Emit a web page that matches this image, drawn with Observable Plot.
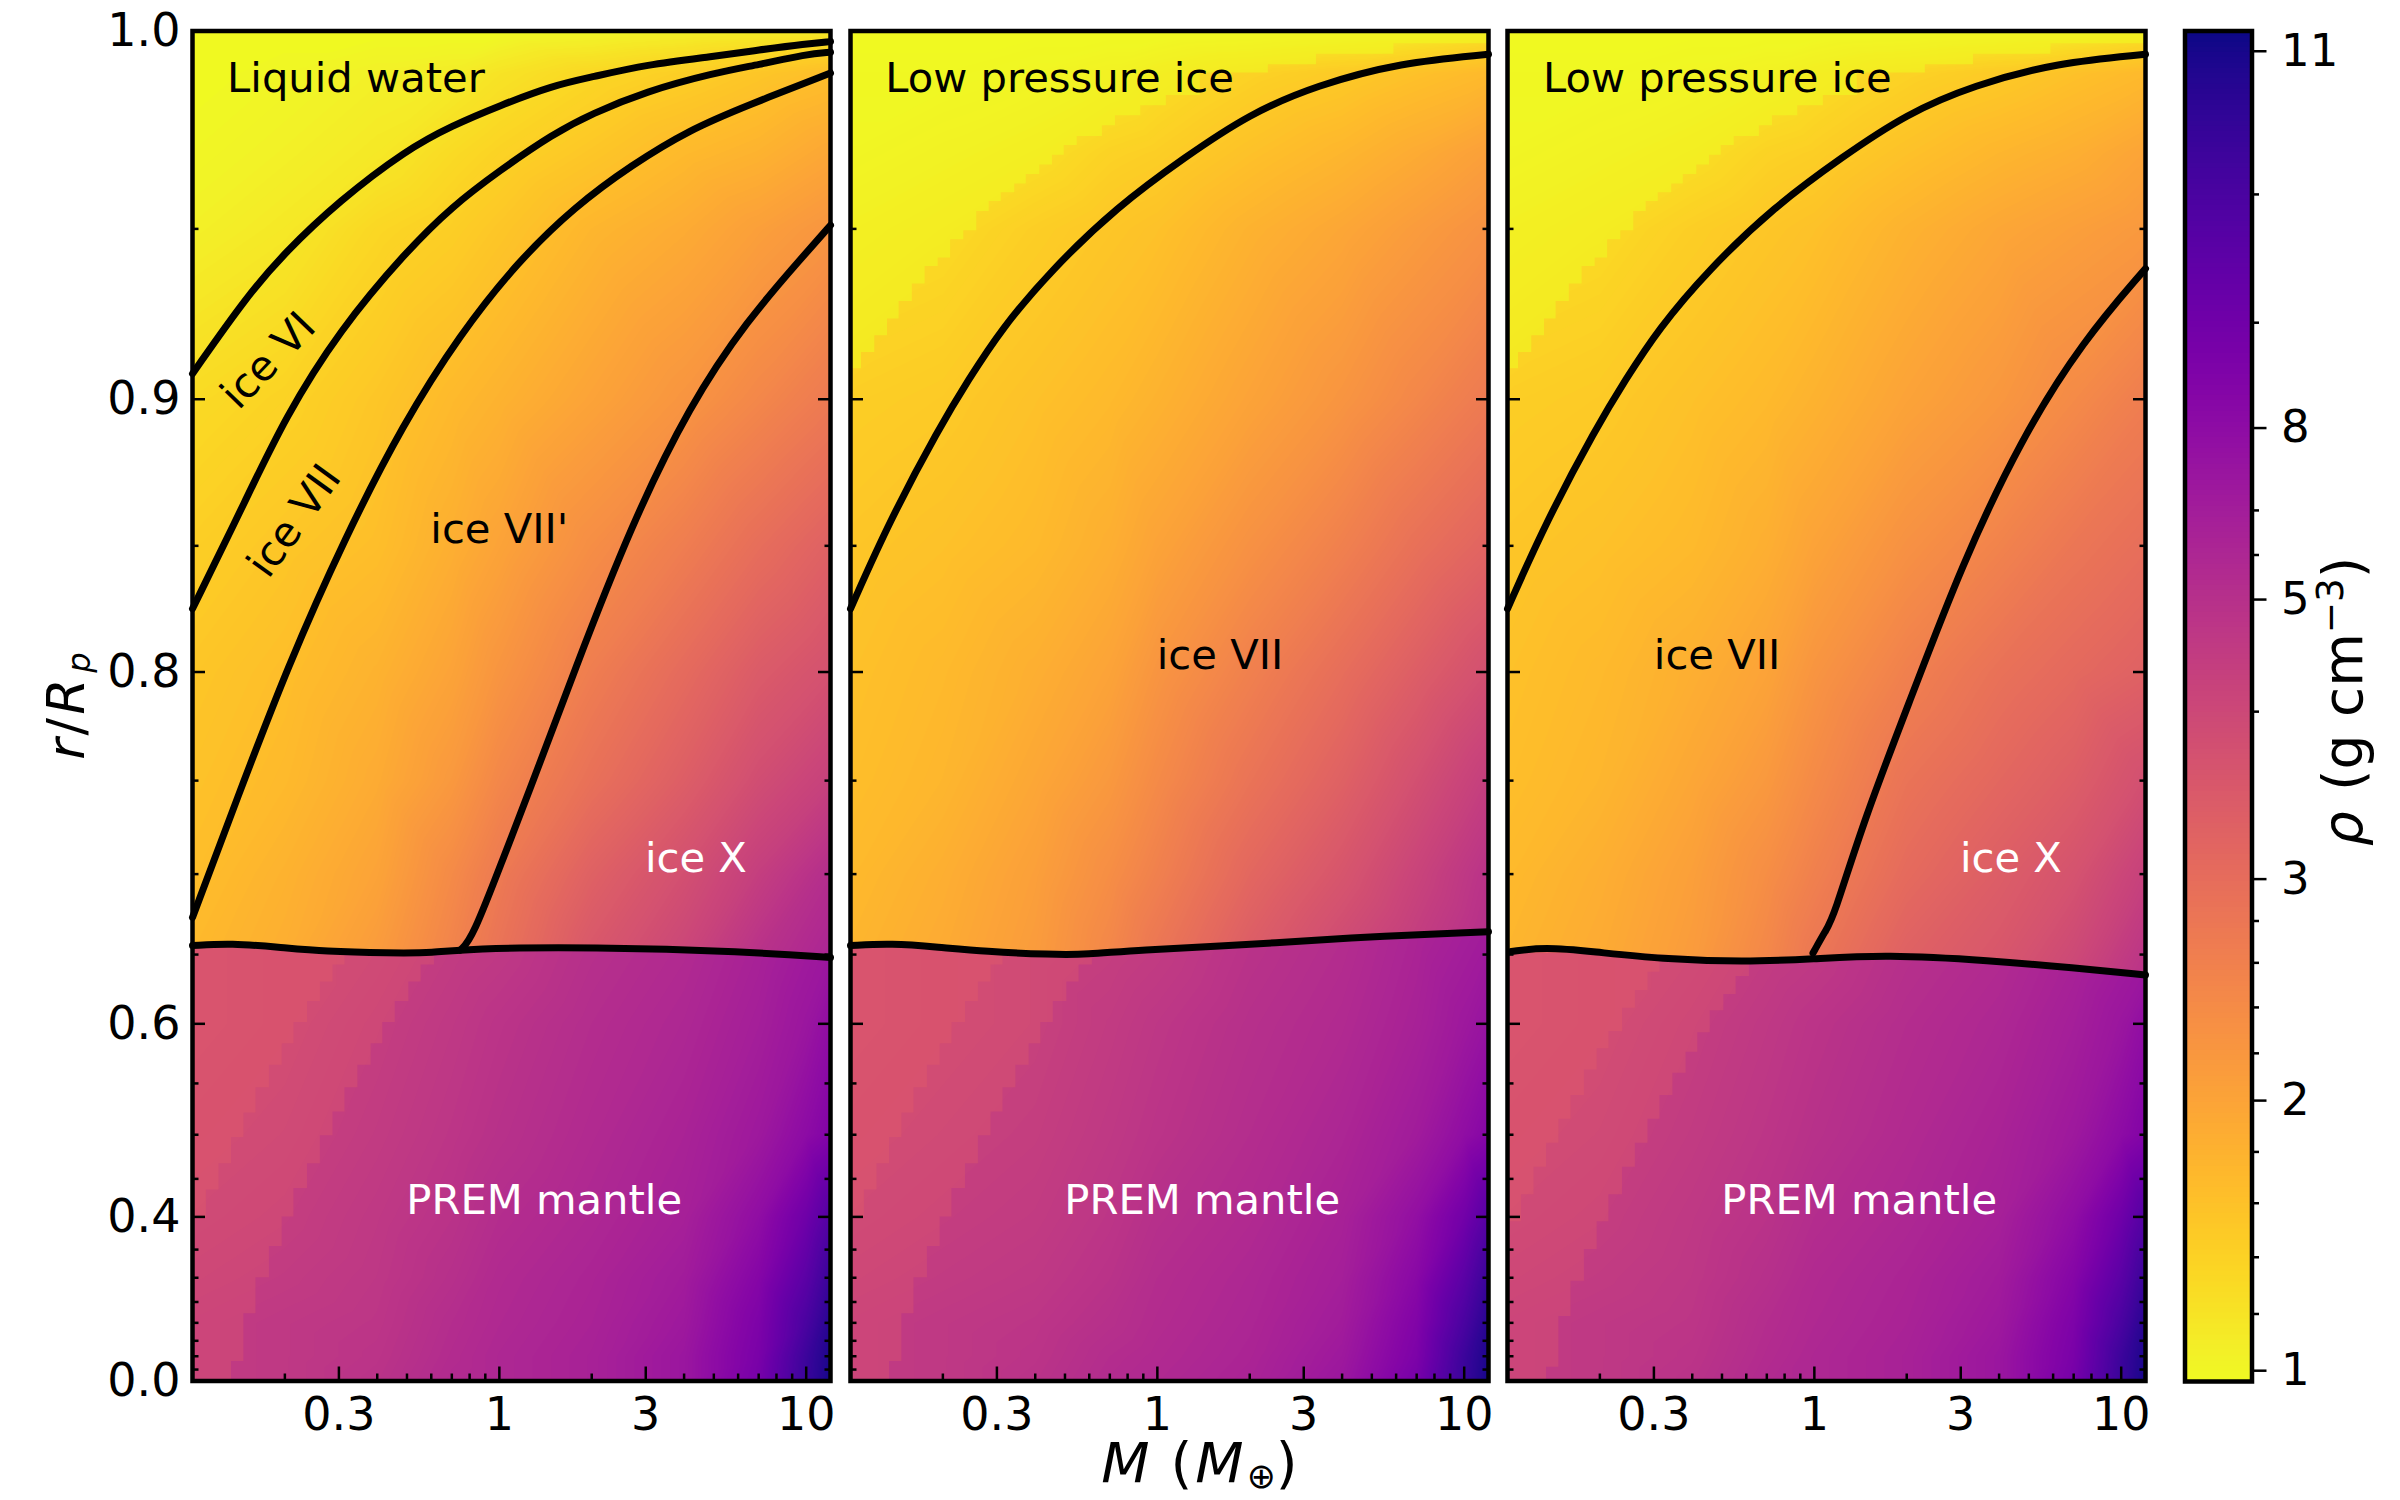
<!DOCTYPE html>
<html>
<head>
<meta charset="utf-8">
<script src="https://cdn.jsdelivr.net/npm/d3@7"></script>
<script src="https://cdn.jsdelivr.net/npm/@observablehq/plot@0.6"></script>
<style>
  body { margin: 0; background: white; font-family: "DejaVu Sans", sans-serif; }
  #fig { position: relative; width: 2400px; height: 1500px; overflow: hidden; }
  #fig svg { position: absolute; top: 0; }
  .lab { position: absolute; white-space: nowrap; color: black; transform: translate(-50%, -50%); }
  .lab.rot { transform: translate(-50%, -50%) rotate(-90deg); }
  .lab sub { font-size: 0.62em; line-height: 0; vertical-align: -0.18em; }
  .lab sup { font-size: 0.68em; line-height: 0; }
  .lab i { margin: 0 3px; }
</style>
</head>
<body>
<div id="fig"></div>
<script>
// axis ticks
const massMajor = [0.3, 1, 3, 10];
const massMinor = [0.2, 0.4, 0.5, 0.6, 0.7, 0.8, 0.9, 2, 4, 5, 6, 7, 8, 9];
const radiusMajor = [1, 0.9, 0.8, 0.6, 0.4, 0];
const radiusMinor = [0.95, 0.85, 0.75, 0.7, 0.65, 0.55, 0.5, 0.45, 0.35, 0.3, 0.25, 0.2, 0.15, 0.1, 0.05];

// colorbar: density ticks and where they sit along the bar (0 bottom, 1 top)
const rhoTicks = [1, 1.2, 1.4, 1.6, 1.8, 2, 2.2, 2.4, 2.6, 2.8, 3, 4, 5, 6, 7, 8, 9, 10, 11];
const rhoTickPos = [0.008, 0.05, 0.092, 0.132, 0.17, 0.208, 0.243, 0.277, 0.31, 0.341, 0.372, 0.496, 0.579, 0.612, 0.645, 0.706, 0.784, 0.879, 0.985];
const rhoMajor = [1, 2, 3, 5, 8, 11];

// density, on a coarse mass / radius grid
const gridMass = [0.1, 0.2, 0.4, 0.7, 1, 2, 4, 7, 10, 12];
const waterMass = [0.1, 0.2, 0.4, 0.7, 1, 2, 4, 7, 12];
const waterR = [1, 0.99, 0.97, 0.95, 0.9, 0.85, 0.8, 0.75, 0.7];
const mantleR = [0.6, 0.5, 0.4, 0.3, 0.2, 0.1, 0];

const waterRho1 = [
  [0.96, 0.96, 0.96, 0.96, 0.96, 1.0, 1.06, 1.1, 1.15],
  [0.96, 1.0, 1.06, 1.1, 1.2, 1.34, 1.44, 1.54, 1.64],
  [1.0, 1.06, 1.15, 1.3, 1.39, 1.54, 1.7, 1.8, 1.96],
  [1.06, 1.15, 1.34, 1.44, 1.54, 1.75, 1.9, 2.07, 2.24],
  [1.3, 1.39, 1.54, 1.7, 1.8, 2.01, 2.24, 2.48, 2.73],
  [1.44, 1.54, 1.64, 1.85, 2.01, 2.36, 2.66, 2.98, 3.31],
  [1.54, 1.64, 1.8, 2.01, 2.24, 2.66, 3.06, 3.47, 3.75],
  [1.59, 1.7, 1.9, 2.18, 2.48, 2.92, 3.39, 3.85, 4.3],
  [1.64, 1.8, 2.01, 2.42, 2.73, 3.31, 3.79, 4.4, 5.3],
  [1.7, 1.85, 2.13, 2.54, 2.86, 3.55, 4.05, 4.9, 6.2]
];
const waterRho2 = [
  [0.96, 0.96, 0.96, 0.96, 0.96, 1.0, 1.06, 1.1, 1.2],
  [1.0, 1.0, 1.06, 1.15, 1.25, 1.39, 1.49, 1.6, 1.7],
  [1.06, 1.15, 1.25, 1.39, 1.44, 1.6, 1.75, 1.9, 2.07],
  [1.2, 1.3, 1.44, 1.54, 1.6, 1.8, 1.96, 2.13, 2.3],
  [1.44, 1.49, 1.6, 1.7, 1.8, 2.01, 2.24, 2.48, 2.73],
  [1.54, 1.6, 1.7, 1.85, 2.01, 2.3, 2.6, 2.92, 3.23],
  [1.6, 1.7, 1.85, 2.01, 2.24, 2.6, 2.98, 3.39, 3.79],
  [1.64, 1.75, 1.96, 2.18, 2.42, 2.86, 3.31, 3.79, 4.4],
  [1.7, 1.85, 2.07, 2.36, 2.6, 3.15, 3.63, 4.17, 4.9],
  [1.75, 1.9, 2.13, 2.48, 2.79, 3.39, 3.87, 4.41, 5.1]
];
const waterRho3 = [
  [0.96, 0.96, 0.96, 0.96, 0.96, 1.0, 1.06, 1.1, 1.2],
  [1.0, 1.0, 1.06, 1.15, 1.25, 1.39, 1.49, 1.6, 1.7],
  [1.06, 1.15, 1.25, 1.39, 1.44, 1.6, 1.75, 1.85, 2.0],
  [1.2, 1.3, 1.44, 1.54, 1.6, 1.8, 1.96, 2.07, 2.18],
  [1.44, 1.49, 1.6, 1.7, 1.8, 2.01, 2.2, 2.42, 2.66],
  [1.54, 1.6, 1.7, 1.85, 2.01, 2.3, 2.55, 2.8, 2.98],
  [1.6, 1.7, 1.85, 2.01, 2.24, 2.6, 2.9, 3.1, 3.31],
  [1.64, 1.75, 1.96, 2.18, 2.42, 2.86, 3.15, 3.4, 3.8],
  [1.7, 1.85, 2.07, 2.36, 2.6, 3.06, 3.4, 3.7, 4.3],
  [1.75, 1.9, 2.13, 2.48, 2.79, 3.3, 3.6, 4.0, 4.9]
];
const mantleRho1 = [
  [4.05, 4.17, 4.29, 4.53, 4.65, 5.03, 5.64, 6.54, 7.08, 7.41],
  [4.05, 4.17, 4.41, 4.65, 4.83, 5.33, 5.94, 6.85, 7.41, 7.9],
  [4.17, 4.29, 4.53, 4.77, 4.96, 5.64, 6.39, 7.25, 8.04, 8.44],
  [4.29, 4.41, 4.65, 4.89, 5.33, 5.94, 6.7, 7.9, 9.05, 9.78],
  [4.41, 4.53, 4.71, 5.03, 5.64, 6.24, 7.08, 8.31, 9.57, 10.38],
  [4.53, 4.65, 4.77, 5.33, 5.79, 6.39, 7.25, 8.57, 10.0, 10.76],
  [4.53, 4.65, 4.83, 5.48, 5.94, 6.54, 7.41, 8.69, 10.3, 10.95],
  [4.53, 4.65, 4.89, 5.64, 5.94, 6.54, 7.41, 8.82, 10.38, 11.05]
];
const mantleRho2 = [
  [4.05, 4.17, 4.29, 4.41, 4.53, 4.89, 5.33, 6.24, 6.85, 7.1],
  [4.05, 4.17, 4.29, 4.53, 4.71, 5.03, 5.64, 6.54, 7.25, 7.6],
  [4.17, 4.29, 4.41, 4.65, 4.83, 5.33, 6.1, 7.1, 7.9, 8.3],
  [4.29, 4.41, 4.53, 4.77, 5.03, 5.64, 6.54, 7.8, 8.95, 9.7],
  [4.41, 4.53, 4.65, 4.89, 5.33, 5.94, 6.85, 8.18, 9.57, 10.38],
  [4.53, 4.65, 4.77, 5.03, 5.48, 6.1, 7.08, 8.44, 10.0, 10.76],
  [4.53, 4.65, 4.83, 5.33, 5.64, 6.24, 7.25, 8.6, 10.3, 10.95],
  [4.53, 4.65, 4.89, 5.48, 5.79, 6.39, 7.41, 8.82, 10.38, 11.05]
];

// mantle surface on gridMass
const boundaryGrid1 = [0.656, 0.655, 0.651, 0.651, 0.654, 0.655, 0.653, 0.651, 0.649, 0.648];
const boundaryGrid2 = [0.656, 0.655, 0.65, 0.651, 0.654, 0.6565, 0.661, 0.663, 0.664, 0.665];
const boundaryGrid3 = [0.652, 0.652, 0.648, 0.645, 0.647, 0.65, 0.646, 0.641, 0.638, 0.636];

// phase boundaries
const lineMass = [0.1, 0.15, 0.2, 0.3, 0.5, 0.7, 1, 1.5, 2, 3, 5, 7, 10, 12];
const waterLineR = [0.908, 0.931, 0.9435, 0.9575, 0.971, 0.977, 0.982, 0.987, 0.989, 0.992, 0.994, 0.9955, 0.997, 0.9975];
const ice6LineR = [0.826, 0.867, 0.894, 0.921, 0.944, 0.956, 0.9655, 0.975, 0.98, 0.9855, 0.99, 0.992, 0.9945, 0.995];
const ice7Mass = [0.1, 0.139, 0.205, 0.314, 0.485, 0.745, 1.15, 1.76, 2.7, 4.17, 6.4, 12];
const ice7R = [0.674, 0.74, 0.803, 0.853, 0.892, 0.92, 0.941, 0.956, 0.967, 0.976, 0.982, 0.99];
const iceXMass1 = [0.745, 0.815, 1.05, 1.22, 1.76, 2.7, 4.17, 6.4, 9.9, 12];
const iceXR1 = [0.653, 0.66, 0.713, 0.74, 0.801, 0.858, 0.898, 0.924, 0.943, 0.951];
const lowIceLineMass = [0.1, 0.134, 0.195, 0.242, 0.31, 0.45, 0.74, 1.23, 2, 3.3, 6.2, 12];
const lowIceLineR = [0.826, 0.859, 0.891, 0.906, 0.9215, 0.9385, 0.956, 0.969, 0.98, 0.987, 0.9925, 0.9945];
const iceXMass3 = [0.99, 1.09, 1.15, 1.45, 2.11, 3, 4.7, 7.5, 12];
const iceXR3 = [0.651, 0.666, 0.673, 0.73, 0.792, 0.842, 0.887, 0.918, 0.939];

const mantleMass1 = [0.1, 0.134, 0.19, 0.27, 0.44, 0.61, 0.79, 2, 6.4, 12];
const mantleLineR1 = [0.656, 0.6575, 0.655, 0.652, 0.651, 0.651, 0.654, 0.655, 0.652, 0.648];
const mantleMass2 = [0.1, 0.136, 0.193, 0.275, 0.45, 0.59, 0.845, 2, 4, 12];
const mantleLineR2 = [0.656, 0.6575, 0.655, 0.652, 0.65, 0.65, 0.653, 0.6565, 0.661, 0.665];
const mantleMass3 = [0.103, 0.132, 0.19, 0.316, 0.59, 0.99, 1.7, 3.75, 7, 12];
const mantleLineR3 = [0.652, 0.655, 0.652, 0.647, 0.645, 0.647, 0.65, 0.646, 0.641, 0.636];

// stepped edges inside the mantle (lighter bands at low mass)
const stairMass = [0.1, 0.111, 0.122, 0.134, 0.147, 0.161, 0.178, 0.196, 0.214, 0.237, 0.261, 0.287, 0.314, 0.346, 0.382, 0.417, 0.458, 0.507, 0.556, 0.614];
const stairTop12 = [0.656, 0.657, 0.657, 0.6575, 0.657, 0.656, 0.656, 0.655, 0.655, 0.654, 0.653, 0.652, 0.652, 0.651, 0.651, 0.651, 0.651, 0.651, 0.651, 0.651];
const stairTop3 = [0.652, 0.653, 0.654, 0.655, 0.654, 0.654, 0.653, 0.652, 0.652, 0.651, 0.65, 0.649, 0.648, 0.647, 0.646, 0.646, 0.645, 0.645, 0.645, 0.645];
const outerR12 = [0, 0, 0, 0.081, 0.223, 0.3, 0.355, 0.4, 0.438, 0.468, 0.499, 0.523, 0.546, 0.566, 0.584, 0.601, 0.617, 0.631, 0.643, 0.651];
const innerR12 = [0.4, 0.436, 0.468, 0.497, 0.522, 0.546, 0.566, 0.584, 0.601, 0.617, 0.631, 0.643, 0.652];
const outerR3 = [0, 0, 0, 0.059, 0.216, 0.293, 0.35, 0.393, 0.43, 0.464, 0.491, 0.516, 0.539, 0.559, 0.577, 0.593, 0.61, 0.622, 0.635, 0.645];
const innerR3 = [0.393, 0.43, 0.464, 0.491, 0.516, 0.539, 0.562, 0.58, 0.594, 0.612, 0.625, 0.638, 0.648];

// stepped edge of the low pressure ice layer
const lowIceMass = [0.1, 0.1086, 0.12, 0.132, 0.144, 0.159, 0.175, 0.193, 0.212, 0.234, 0.258, 0.283, 0.31, 0.343, 0.374, 0.414, 0.455, 0.497, 0.548, 0.662, 0.73, 0.883, 1.07, 1.38, 2.3, 3.3, 5.9, 12];
const lowIceR = [0.9095, 0.9145, 0.9195, 0.9245, 0.9296, 0.9346, 0.9396, 0.942, 0.947, 0.9495, 0.9547, 0.9574, 0.9597, 0.962, 0.9645, 0.967, 0.9695, 0.972, 0.9743, 0.977, 0.9795, 0.982, 0.9845, 0.99, 0.992, 0.9945, 0.997, 0.997];

// region labels
const labels1 = ["Liquid water", "ice VI", "ice VII", "ice VII'", "ice X", "PREM mantle"];
const labelMass1 = [0.341, 0.177, 0.215, 1, 4.37, 1.4];
const labelR1 = [0.9887, 0.912, 0.859, 0.856, 0.709, 0.422];
const labelAngle1 = [0, -46, -54, 0, 0, 0];
const labels2 = ["Low pressure ice", "ice VII", "PREM mantle"];
const labelMass2 = [0.48, 1.6, 1.4];
const labelR2 = [0.9887, 0.807, 0.422];
const labels3 = ["Low pressure ice", "ice VII", "ice X", "PREM mantle"];
const labelMass3 = [0.483, 0.482, 4.37, 1.4];
const labelR3 = [0.9887, 0.807, 0.709, 0.422];

// the radius axis is stretched exponentially toward the surface
const warp = r => Math.exp(3 * r);
const barPos = d3.scaleLinear().domain(rhoTicks).range(rhoTickPos);
const colorOpts = {type: "linear", domain: [0, 1], scheme: "plasma", reverse: true};
const labelSize = 41.7;
const tickFont = 46;
const frameTop = 30.5, frameBottom = 119.5;

const zip = (mass, r) => mass.map((m, i) => ({m, y: warp(r[i])}));

function field(waterRho, mantleRho, boundary) {
  const pts = [];
  const waterBoundary = boundary.filter((_, i) => gridMass[i] !== 10);
  waterRho.forEach((row, j) => row.forEach((rho, i) => {
    // last row sits just above the mantle surface, under the black line
    const r = j < waterR.length ? waterR[j] : waterBoundary[i] + 0.0012;
    pts.push({m: waterMass[i], y: warp(r), t: barPos(rho)});
  }));
  mantleRho.forEach((row, j) => row.forEach((rho, i) => {
    if (j === 0 && gridMass[i] === 10) return; // keep the two surface rows aligned
    const r = j === 0 ? boundary[i] - 0.0012 : mantleR[j - 1];
    pts.push({m: gridMass[i], y: warp(r), t: barPos(rho)});
  }));
  return pts;
}

function panel(p) {
  const inwardTicks = [
    Plot.axisX(massMajor, {anchor: "bottom", tickSize: -14, fill: "none", strokeWidth: 2.5}),
    Plot.axisX(massMinor, {anchor: "bottom", tickSize: -7, fill: "none", strokeWidth: 2.5}),
    Plot.axisY(radiusMajor.map(warp), {anchor: "left", tickSize: -13, fill: "none", strokeWidth: 2.5}),
    Plot.axisY(radiusMinor.map(warp), {anchor: "left", tickSize: -6.5, fill: "none", strokeWidth: 2.5}),
    Plot.axisY(radiusMajor.map(warp), {anchor: "right", tickSize: -13, fill: "none", strokeWidth: 2.5}),
    Plot.axisY(radiusMinor.map(warp), {anchor: "right", tickSize: -6.5, fill: "none", strokeWidth: 2.5})
  ];
  const stair = (mass, r1, r2) => mass.map((m, i) => ({m, y1: warp(r1[i]), y2: warp(r2[i])}));
  const outer = stair(stairMass, p.outerR, p.stairTop);
  const inner = stair(stairMass.slice(0, p.innerR.length), p.innerR, p.stairTop);
  return Plot.plot({
    width: p.marginLeft + 638 + 20,
    height: 1500,
    marginTop: frameTop,
    marginBottom: frameBottom,
    marginLeft: p.marginLeft,
    marginRight: 20,
    style: {fontFamily: "DejaVu Sans", fontSize: labelSize + "px", background: "none"},
    x: {type: "log", domain: [0.1, 12], axis: null},
    y: {domain: [warp(0), warp(1)], axis: null},
    color: colorOpts,
    marks: [
      Plot.raster(p.field, {x: "m", y: "y", fill: "t", interpolate: "barycentric"}),
      Plot.areaY(outer, {x: "m", y1: "y1", y2: "y2", curve: "step-after", fill: "#ee6a60", fillOpacity: 0.24}),
      Plot.areaY(inner, {x: "m", y1: "y1", y2: "y2", curve: "step-after", fill: "#ee6a60", fillOpacity: 0.24}),
      p.lowIce ? Plot.areaY(zip(lowIceMass, lowIceR), {x: "m", y1: "y", y2: warp(1), curve: "step-after", fill: "#f0f921", fillOpacity: 0.6}) : null,
      p.lines.map(l => Plot.line(l, {x: "m", y: "y", stroke: "black", strokeWidth: 7, curve: "basis"})),
      Plot.text(p.labels.text, {
        x: (_, i) => p.labels.mass[i],
        y: (_, i) => warp(p.labels.r[i]),
        text: d => d,
        rotate: (_, i) => p.labels.angle ? p.labels.angle[i] : 0,
        fontSize: labelSize,
        textAnchor: "middle",
        fill: d => /ice X|PREM/.test(d) ? "white" : "black"
      }),
      inwardTicks,
      Plot.axisX(massMajor, {anchor: "bottom", tickSize: 0, tickPadding: 16, tickFormat: d => String(d), fontSize: tickFont, label: null}),
      p.yLabels ? Plot.axisY(radiusMajor.map(warp), {anchor: "left", tickSize: 0, tickPadding: 12, tickFormat: d => d3.format(".1f")(Math.log(d) / 3), fontSize: tickFont, label: null}) : null,
      Plot.frame({stroke: "black", strokeWidth: 4.5})
    ]
  });
}

function colorbar() {
  const axisOpts = {anchor: "right", label: null};
  const minorTicks = rhoTicks.filter(d => !rhoMajor.includes(d)).map(barPos);
  return Plot.plot({
    width: 2400 - 2120,
    height: 1500,
    marginTop: frameTop,
    marginBottom: 119,
    marginLeft: 64.5,
    marginRight: 2400 - 2251.5,
    style: {fontFamily: "DejaVu Sans", fontSize: tickFont + "px", background: "none"},
    x: {domain: [0, 1], axis: null},
    y: {domain: [0, 1], axis: null},
    color: colorOpts,
    marks: [
      Plot.raster({x1: 0, x2: 1, y1: 0, y2: 1, fill: (x, y) => y}),
      Plot.axisY(minorTicks, {...axisOpts, tickSize: 6.5, fill: "none", strokeWidth: 2.5}),
      Plot.axisY(rhoMajor.map(barPos), {...axisOpts, tickSize: 14, fill: "none", strokeWidth: 2.5}),
      Plot.axisY(rhoMajor.map(barPos), {...axisOpts, tickSize: 0, tickPadding: 29, tickFormat: d => rhoTicks[rhoTickPos.indexOf(d)], textAnchor: "start", fontSize: 45}),
      Plot.frame({stroke: "black", strokeWidth: 4.5})
    ]
  });
}

const panels = [
  {
    left: 0, marginLeft: 192, yLabels: true,
    field: field(waterRho1, mantleRho1, boundaryGrid1),
    outerR: outerR12, innerR: innerR12, stairTop: stairTop12,
    lines: [zip(lineMass, waterLineR), zip(lineMass, ice6LineR), zip(ice7Mass, ice7R), zip(iceXMass1, iceXR1), zip(mantleMass1, mantleLineR1)],
    labels: {text: labels1, mass: labelMass1, r: labelR1, angle: labelAngle1}
  },
  {
    left: 830, marginLeft: 20, lowIce: true,
    field: field(waterRho2, mantleRho2, boundaryGrid2),
    outerR: outerR12, innerR: innerR12, stairTop: stairTop12,
    lines: [zip(lowIceLineMass, lowIceLineR), zip(mantleMass2, mantleLineR2)],
    labels: {text: labels2, mass: labelMass2, r: labelR2}
  },
  {
    left: 1487, marginLeft: 20, lowIce: true,
    field: field(waterRho3, mantleRho1, boundaryGrid3),
    outerR: outerR3, innerR: innerR3, stairTop: stairTop3,
    lines: [zip(lowIceLineMass, lowIceLineR), zip(iceXMass3, iceXR3), zip(mantleMass3, mantleLineR3)],
    labels: {text: labels3, mass: labelMass3, r: labelR3}
  }
];

const fig = document.getElementById("fig");
panels.forEach(p => {
  const svg = panel(p);
  svg.style.left = p.left + "px";
  fig.append(svg);
});
const bar = colorbar();
bar.style.left = "2120px";
fig.append(bar);

// axis titles
[
  {html: "<i>M</i> (<i>M</i><sub>⊕</sub>)", x: 1198, y: 1462, size: 56, rot: false},
  {html: "<i>r</i>/<i>R</i><sub><i>p</i></sub>", x: 66, y: 706, size: 52, rot: true},
  {html: "<i>ρ</i> (g cm<sup>−3</sup>)", x: 2343, y: 703, size: 55, rot: true}
].forEach(l => {
  const el = document.createElement("div");
  el.className = "lab" + (l.rot ? " rot" : "");
  el.innerHTML = l.html;
  el.style.left = l.x + "px";
  el.style.top = l.y + "px";
  el.style.fontSize = l.size + "px";
  fig.append(el);
});
</script>
</body>
</html>
